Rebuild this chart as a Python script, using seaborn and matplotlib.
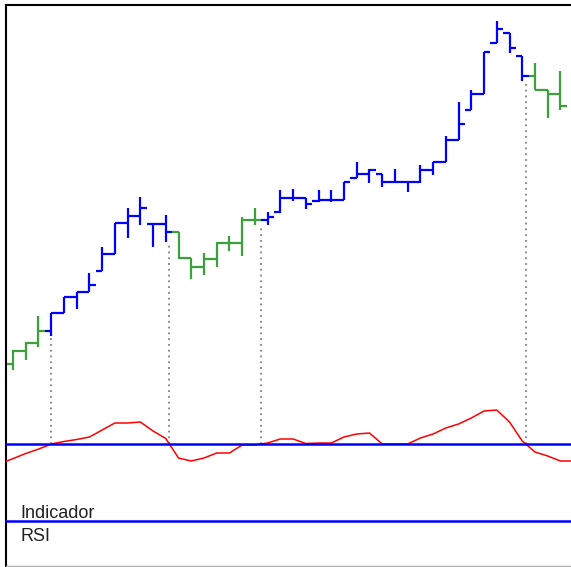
import numpy as np
import pandas as pd
import matplotlib
matplotlib.use("Agg")
import matplotlib.pyplot as plt
import seaborn as sns

# ---------------- data ----------------
opens = [23.6, 24.9, 25.7, 26.9, 28.7, 30.3, 30.8, 32.9, 34.6, 37.7, 38.4, 37.6,
         37.6, 36.8, 34.2, 33.3, 34.1, 35.7, 35.7, 38.0, 38.0, 38.8, 40.2, 40.2,
         39.9, 40.0, 40.0, 42.2, 42.6, 42.6, 41.8, 41.8, 41.8, 43.0, 43.8, 46.0,
         49.0, 50.6, 55.7, 56.7, 54.4, 52.4, 51.0, 50.6]
highs = [25.0, 25.8, 28.4, 28.7, 30.3, 30.8, 32.7, 35.3, 37.7, 39.2, 40.3, 37.6,
         38.5, 36.8, 34.2, 34.7, 35.8, 36.4, 38.3, 39.2, 38.8, 41.0, 41.1, 40.2,
         41.0, 41.0, 41.8, 43.8, 43.1, 42.6, 43.1, 41.8, 43.5, 43.8, 46.4, 49.8,
         51.0, 54.8, 57.9, 56.7, 54.4, 53.7, 51.0, 52.9]
lows = [23.0, 24.0, 25.3, 26.4, 28.7, 29.1, 30.8, 32.9, 34.6, 36.2, 37.5, 35.3,
        35.8, 34.1, 32.1, 32.5, 33.3, 34.9, 34.4, 37.5, 37.5, 38.7, 39.9, 39.1,
        39.8, 39.8, 40.0, 42.2, 41.7, 41.3, 41.7, 40.8, 41.7, 42.5, 43.8, 46.0,
        49.0, 50.6, 55.7, 54.7, 51.9, 51.0, 48.2, 49.0]
closes = [24.9, 25.7, 26.9, 28.7, 30.3, 30.8, 31.5, 34.6, 37.7, 38.4, 39.2, 37.6,
          36.8, 34.2, 33.3, 34.1, 35.7, 35.7, 38.0, 38.0, 38.3, 40.2, 40.2, 39.6,
          40.0, 40.0, 41.8, 42.6, 43.0, 41.8, 41.8, 41.8, 43.0, 43.8, 46.0, 47.6,
          50.6, 54.8, 57.1, 55.2, 52.4, 51.0, 50.6, 49.4]
# RSI indicator, one value per bar (starting one bar before the first shown bar)
rsi_values = [34.4, 38.3, 42.4, 45.9, 50.0, 52.0, 53.6, 55.6, 61.2, 66.8, 66.8, 67.6,
              60.4, 54.4, 38.8, 36.4, 38.8, 42.8, 42.8, 49.2, 49.2, 50.8, 54.0, 54.0,
              50.4, 50.8, 50.8, 55.6, 58.0, 58.8, 50.0, 50.0, 50.0, 54.8, 58.0, 62.8,
              66.0, 70.8, 76.4, 77.2, 67.6, 52.4, 43.6, 40.4, 36.4, 36.4]
rsi_level = 50
label_top = "Indicador"
label_bottom = "RSI"

# ---------------- layout / style ----------------
W, H, DPI = 571, 567, 100
BLUE = "#0000FF"
GREEN = "#3CA03C"
RED = "#FF0000"

sns.set_theme(style="white")
plt.rcParams["font.family"] = ["Liberation Sans", "DejaVu Sans"]

fig = plt.figure(figsize=(W / DPI, H / DPI), dpi=DPI)
fig.patch.set_facecolor("white")
pos = [6 / W, 1 / H, 1 - 6 / W, (566 - 5) / H]
ax = fig.add_axes(pos)
ax_r = fig.add_axes(pos, sharex=ax)

n = len(opens)
bars = pd.DataFrame({"idx": np.arange(n), "open": opens, "high": highs,
                     "low": lows, "close": closes})
rsi = pd.DataFrame({"idx": np.arange(-1, len(rsi_values) - 1), "rsi": rsi_values})

ax.set_xlim(-0.55, 43.83)
ax.set_ylim(3.4, 59.5)
ax_r.set_ylim(-47.6, 401.2)

# colour per bar: blue when RSI >= level, green otherwise
rsi_at_bar = rsi.set_index("idx").loc[bars["idx"], "rsi"].to_numpy()
above = rsi_at_bar >= rsi_level
colors = np.where(above, BLUE, GREEN)

half = 0.5
lw_bar = 1.6
ax.vlines(bars["idx"], bars["low"], bars["high"], colors=colors, lw=lw_bar, zorder=3)
ax.hlines(bars["open"], bars["idx"] - half, bars["idx"], colors=colors, lw=lw_bar, zorder=3)
ax.hlines(bars["close"], bars["idx"], bars["idx"] + half, colors=colors, lw=lw_bar, zorder=3)

# RSI line
sns.lineplot(data=rsi, x="idx", y="rsi", ax=ax_r, color=RED, lw=1.1, zorder=2)
ax_r.axhline(rsi_level, color=BLUE, lw=1.8, zorder=4)
ax_r.plot([0, 1], [(566 - 521) / (566 - 5)] * 2, transform=ax_r.transAxes,
          color=BLUE, lw=1.8, zorder=4, clip_on=False)

# crossings -> dotted vertical signal lines
fig.canvas.draw()
p50 = ax.transData.inverted().transform(ax_r.transData.transform((0, rsi_level)))[1]
for k in range(n - 1):
    a, b = rsi_at_bar[k], rsi_at_bar[k + 1]
    if above[k] != above[k + 1]:
        frac = (rsi_level - a) / (b - a)
        xc = k + frac
        kb = int(round(xc))
        ax.vlines(xc, p50, lows[kb], colors="#808080", lw=1.3,
                  linestyles=(0, (1, 2.2)), zorder=1)

# axes cosmetics
for a in (ax, ax_r):
    a.set_xticks([])
    a.set_yticks([])
    a.set_xlabel("")
    a.set_ylabel("")
ax_r.patch.set_visible(False)
for s in ax_r.spines.values():
    s.set_visible(False)
ax.spines["right"].set_visible(False)
ax.spines["left"].set_color("black")
ax.spines["left"].set_linewidth(1.5)
ax.spines["top"].set_color("black")
ax.spines["top"].set_linewidth(1.5)
ax.spines["bottom"].set_color("#B0B0B0")
ax.spines["bottom"].set_linewidth(1.0)

fig.text(20 / W, 1 - 518 / H, label_top, fontsize=13, color="#202020", va="baseline")
fig.text(20 / W, 1 - 541 / H, label_bottom, fontsize=13, color="#202020", va="baseline")

fig.savefig("out.png", dpi=DPI)
